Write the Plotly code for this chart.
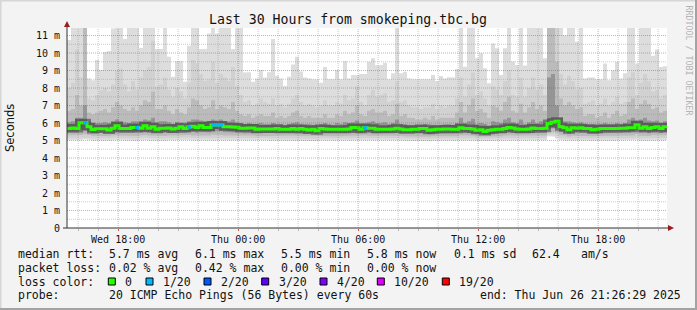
import plotly.graph_objects as go
import pandas as pd

# ---------------- data ----------------
title_text = "Last 30 Hours from smokeping.tbc.bg"
t_start = "2025-06-25 15:26:29"
t_end = "2025-06-26 21:26:29"
step_min = 12  # one smoke column = 12 minutes

x_tick_vals = ["2025-06-25 18:00:00", "2025-06-26 00:00:00", "2025-06-26 06:00:00",
               "2025-06-26 12:00:00", "2025-06-26 18:00:00"]
x_tick_text = ["Wed 18:00", "Thu 00:00", "Thu 06:00", "Thu 12:00", "Thu 18:00"]
y_tick_vals = [0, 1, 2, 3, 4, 5, 6, 7, 8, 9, 10, 11]
y_tick_text = ["0", "1 m", "2 m", "3 m", "4 m", "5 m", "6 m", "7 m", "8 m", "9 m", "10 m", "11 m"]

# smoke envelope (milliseconds), one value per 12-minute column
rtt_max = [
    10.74, 11.6, 11.6, 11.6, 11.6, 8.55, 8.45, 9.6, 9.03, 10.06,
    10.11, 11.4, 11.5, 11.6, 10.8, 11.6, 11.6, 11.6, 10.29, 11.6,
    11.6, 11.6, 10.23, 10.23, 11.6, 9.79, 8.65, 9.54, 9.54, 8.36,
    10.42, 11.6, 11.6, 10.23, 10.23, 11.12, 11.6, 11.12, 11.6, 11.6,
    11.6, 10.23, 11.6, 11.6, 8.88, 8.9, 8.36, 8.55, 9.03, 8.6,
    8.9, 10.8, 8.7, 8.55, 8.11, 8.65, 9.35, 9.79, 8.95, 8.6,
    8.55, 8.5, 8.48, 8.3, 9.2, 8.52, 8.5, 9.03, 8.5, 9.54,
    8.55, 8.74, 8.74, 8.8, 8.8, 9.5, 9.7, 9.3, 9.31, 9.45,
    8.5, 8.84, 11.6, 8.84, 8.93, 8.55, 8.5, 8.5, 8.46, 8.46,
    8.5, 8.74, 8.4, 8.69, 8.55, 8.61, 8.6, 9.09, 11.6, 9.22,
    11.6, 11.6, 9.7, 9.98, 9.13, 8.27, 10.55, 10.27, 8.74, 10.27,
    11.6, 9.51, 9.31, 11.6, 9.28, 11.6, 11.6, 11.6, 11.6, 9.7,
    11.6, 11.6, 11.6, 11.6, 11.0, 11.6, 11.6, 10.65, 11.6, 8.55,
    8.6, 8.6, 8.5, 8.5, 9.4, 8.45, 9.0, 9.5, 8.55, 8.85,
    11.5, 11.6, 9.4, 11.6, 11.6, 11.6, 9.85, 10.2, 9.2, 9.25,
]
rtt_hi2 = [
    8.0, 8.3, 10.2, 8.6, 11.6, 7.4, 7.3, 7.6, 7.9, 8.0,
    7.8, 8.2, 9.0, 9.1, 8.2, 7.8, 8.4, 7.9, 8.6, 9.0,
    9.2, 10.7, 8.1, 8.2, 8.6, 7.9, 7.5, 8.0, 7.8, 7.4,
    8.3, 9.6, 9.4, 8.8, 8.4, 8.5, 9.5, 8.3, 8.8, 8.6,
    8.4, 9.2, 8.1, 7.6, 7.2, 7.3, 7.0, 7.1, 7.4, 7.2,
    7.1, 7.4, 7.0, 7.1, 6.9, 7.1, 7.4, 7.6, 7.2, 7.0,
    7.1, 7.0, 6.9, 7.0, 7.3, 7.0, 7.0, 7.2, 7.1, 7.6,
    7.3, 7.4, 8.1, 7.2, 7.0, 7.6, 7.9, 7.5, 7.6, 7.7,
    7.2, 7.3, 8.4, 7.2, 7.3, 7.0, 6.9, 6.9, 6.8, 6.9,
    6.9, 7.1, 6.8, 7.0, 6.9, 7.0, 7.0, 7.4, 8.6, 7.5,
    8.2, 8.9, 7.6, 7.8, 7.4, 7.0, 8.1, 7.9, 7.6, 8.4,
    9.0, 7.6, 7.5, 8.6, 7.5, 8.0, 8.6, 7.9, 8.2, 7.6,
    11.6, 11.6, 11.6, 8.8, 8.2, 8.7, 8.4, 7.9, 8.0, 7.1,
    7.2, 7.3, 7.0, 7.1, 7.4, 7.0, 7.2, 7.5, 7.1, 7.2,
    8.6, 8.9, 7.6, 8.3, 8.8, 8.4, 7.8, 7.9, 7.4, 7.6,
]
rtt_hi3 = [
    6.7, 6.8, 7.6, 7.0, 11.6, 6.6, 6.5, 6.6, 6.7, 6.8,
    6.6, 6.9, 7.2, 7.0, 6.8, 6.7, 6.9, 6.7, 7.0, 7.3,
    7.2, 7.8, 6.8, 6.8, 7.0, 6.7, 6.5, 6.8, 6.6, 6.5,
    6.9, 7.4, 7.3, 7.0, 6.8, 6.9, 7.3, 6.8, 7.0, 6.9,
    6.8, 7.2, 6.7, 6.5, 6.4, 6.5, 6.3, 6.4, 6.5, 6.4,
    6.4, 6.6, 6.3, 6.4, 6.3, 6.4, 6.6, 6.7, 6.4, 6.3,
    6.4, 6.3, 6.3, 6.3, 6.5, 6.3, 6.3, 6.5, 6.4, 6.7,
    6.5, 6.6, 7.0, 6.5, 6.4, 6.7, 6.8, 6.6, 6.6, 6.7,
    6.4, 6.5, 7.1, 6.4, 6.5, 6.3, 6.3, 6.2, 6.2, 6.3,
    6.2, 6.4, 6.2, 6.3, 6.3, 6.3, 6.3, 6.6, 7.2, 6.6,
    7.0, 7.4, 6.7, 6.8, 6.6, 6.3, 7.0, 6.9, 6.7, 7.2,
    7.5, 6.7, 6.6, 7.1, 6.6, 6.9, 7.2, 6.8, 7.0, 6.7,
    11.6, 11.6, 9.5, 7.4, 7.0, 7.2, 7.0, 6.8, 6.9, 6.4,
    6.5, 6.5, 6.3, 6.4, 6.6, 6.3, 6.5, 6.7, 6.4, 6.5,
    7.2, 7.4, 6.8, 7.1, 7.3, 7.1, 6.8, 6.9, 6.6, 6.7,
]
rtt_hi4 = [
    6.05, 6.1, 6.3, 6.3, 7.0, 6.1, 6.0, 6.0, 6.0, 6.05,
    6.0, 6.1, 6.2, 6.1, 6.05, 6.0, 6.1, 6.1, 6.1, 6.2,
    6.15, 6.3, 6.05, 6.1, 6.1, 6.05, 5.95, 6.05, 6.0, 5.95,
    6.1, 6.2, 6.2, 6.15, 6.1, 6.1, 6.2, 6.15, 6.2, 6.1,
    6.1, 6.2, 6.05, 6.0, 5.95, 6.0, 5.95, 5.95, 6.0, 5.95,
    5.95, 6.0, 5.95, 5.95, 5.9, 5.95, 6.0, 6.05, 5.95, 5.9,
    5.95, 5.9, 5.9, 5.95, 6.0, 5.95, 5.9, 6.0, 5.95, 6.05,
    6.0, 6.05, 6.15, 6.0, 6.0, 6.05, 6.1, 6.0, 6.0, 6.05,
    5.95, 6.0, 6.2, 5.95, 5.95, 5.9, 5.9, 5.9, 5.9, 5.95,
    5.85, 5.9, 5.9, 5.9, 5.95, 5.95, 5.9, 6.0, 6.3, 6.0,
    6.1, 6.25, 5.95, 6.0, 5.95, 5.85, 6.1, 6.05, 6.0, 6.2,
    6.3, 6.05, 6.0, 6.2, 5.95, 6.05, 6.2, 6.0, 6.1, 6.0,
    8.6, 8.8, 7.0, 6.3, 6.1, 6.1, 6.05, 6.0, 6.05, 5.95,
    5.95, 5.95, 5.9, 5.95, 6.0, 5.95, 5.95, 6.0, 5.95, 6.0,
    6.2, 6.3, 6.15, 6.2, 6.3, 6.15, 6.1, 6.15, 6.0, 6.1,
]
rtt_min = [
    5.02, 5.00, 4.98, 5.01, 5.07, 5.03, 5.00, 4.99, 5.02, 5.01,
    4.98, 5.00, 5.03, 5.01, 4.99, 5.02, 5.00, 4.98, 5.01, 5.03,
    5.00, 4.99, 5.02, 5.00, 4.98, 5.01, 5.02, 5.00, 4.99, 5.01,
    5.03, 5.00, 4.98, 5.01, 5.02, 5.00, 5.01, 4.99, 5.02, 5.00,
    4.99, 5.01, 5.00, 5.02, 4.98, 5.00, 5.01, 4.99, 5.00, 5.02,
    5.00, 4.98, 5.01, 5.00, 4.97, 4.99, 5.01, 5.00, 4.98, 5.00,
    4.99, 5.01, 4.97, 5.00, 4.98, 5.00, 4.99, 5.01, 4.98, 5.00,
    5.01, 5.02, 5.00, 4.99, 5.02, 5.00, 5.01, 4.98, 5.00, 4.99,
    5.00, 4.98, 5.02, 5.00, 4.97, 4.99, 4.98, 5.00, 4.97, 4.99,
    4.96, 4.98, 5.00, 4.99, 4.98, 5.00, 4.99, 4.98, 5.02, 5.00,
    4.99, 5.00, 4.97, 4.99, 4.95, 4.97, 4.99, 5.00, 4.98, 5.00,
    5.02, 5.00, 4.99, 4.98, 5.00, 4.99, 5.01, 5.00, 4.99, 5.01,
    5.24, 5.22, 5.10, 5.03, 5.00, 4.97, 5.00, 4.99, 5.01, 4.99,
    4.98, 4.97, 5.00, 4.99, 5.00, 4.98, 4.99, 5.00, 5.01, 5.00,
    5.02, 5.00, 5.04, 4.99, 5.01, 4.99, 5.02, 5.00, 4.99, 5.01,
]
rtt_lo2 = [
    5.15, 5.14, 5.12, 5.16, 5.20, 5.16, 5.13, 5.12, 5.14, 5.13,
    5.11, 5.14, 5.17, 5.14, 5.13, 5.15, 5.14, 5.12, 5.15, 5.17,
    5.14, 5.13, 5.16, 5.14, 5.12, 5.15, 5.16, 5.14, 5.13, 5.15,
    5.17, 5.14, 5.12, 5.15, 5.16, 5.14, 5.16, 5.13, 5.16, 5.14,
    5.13, 5.15, 5.14, 5.16, 5.12, 5.14, 5.15, 5.12, 5.13, 5.15,
    5.13, 5.11, 5.14, 5.13, 5.10, 5.12, 5.14, 5.13, 5.11, 5.13,
    5.12, 5.14, 5.10, 5.13, 5.11, 5.13, 5.12, 5.14, 5.11, 5.13,
    5.14, 5.15, 5.13, 5.12, 5.15, 5.13, 5.14, 5.11, 5.13, 5.12,
    5.13, 5.11, 5.15, 5.13, 5.10, 5.12, 5.11, 5.13, 5.10, 5.12,
    5.09, 5.11, 5.13, 5.12, 5.11, 5.13, 5.12, 5.11, 5.15, 5.13,
    5.12, 5.13, 5.10, 5.12, 5.08, 5.10, 5.12, 5.13, 5.11, 5.13,
    5.15, 5.13, 5.12, 5.11, 5.13, 5.12, 5.14, 5.13, 5.12, 5.14,
    5.35, 5.34, 5.24, 5.16, 5.13, 5.10, 5.13, 5.12, 5.14, 5.12,
    5.11, 5.10, 5.13, 5.12, 5.13, 5.11, 5.12, 5.13, 5.14, 5.13,
    5.15, 5.13, 5.18, 5.12, 5.14, 5.12, 5.15, 5.13, 5.12, 5.14,
]
rtt_lo3 = [
    5.30, 5.29, 5.27, 5.31, 5.36, 5.31, 5.27, 5.26, 5.28, 5.27,
    5.25, 5.28, 5.31, 5.28, 5.27, 5.29, 5.28, 5.26, 5.29, 5.31,
    5.28, 5.27, 5.30, 5.28, 5.26, 5.29, 5.30, 5.28, 5.27, 5.29,
    5.31, 5.28, 5.26, 5.29, 5.30, 5.28, 5.33, 5.30, 5.32, 5.29,
    5.28, 5.30, 5.29, 5.30, 5.26, 5.28, 5.29, 5.25, 5.27, 5.28,
    5.27, 5.25, 5.28, 5.27, 5.24, 5.26, 5.28, 5.27, 5.25, 5.27,
    5.25, 5.27, 5.23, 5.27, 5.25, 5.26, 5.25, 5.27, 5.25, 5.26,
    5.28, 5.30, 5.27, 5.26, 5.30, 5.27, 5.28, 5.25, 5.26, 5.26,
    5.26, 5.25, 5.29, 5.27, 5.24, 5.25, 5.25, 5.26, 5.24, 5.26,
    5.22, 5.24, 5.26, 5.26, 5.25, 5.27, 5.26, 5.25, 5.30, 5.27,
    5.26, 5.27, 5.23, 5.25, 5.21, 5.23, 5.25, 5.26, 5.25, 5.27,
    5.30, 5.28, 5.26, 5.25, 5.26, 5.25, 5.28, 5.27, 5.26, 5.28,
    5.50, 5.52, 5.45, 5.32, 5.28, 5.23, 5.27, 5.26, 5.28, 5.26,
    5.25, 5.24, 5.26, 5.26, 5.27, 5.25, 5.26, 5.27, 5.28, 5.27,
    5.29, 5.28, 5.36, 5.27, 5.30, 5.26, 5.30, 5.31, 5.27, 5.30,
]
rtt_lo4 = [
    5.46, 5.47, 5.45, 5.60, 5.62, 5.48, 5.42, 5.42, 5.43, 5.43,
    5.40, 5.44, 5.50, 5.45, 5.44, 5.45, 5.46, 5.44, 5.45, 5.50,
    5.45, 5.46, 5.44, 5.45, 5.44, 5.45, 5.46, 5.44, 5.46, 5.44,
    5.48, 5.50, 5.45, 5.50, 5.47, 5.46, 5.55, 5.55, 5.55, 5.48,
    5.47, 5.47, 5.46, 5.45, 5.42, 5.44, 5.44, 5.40, 5.42, 5.42,
    5.42, 5.41, 5.43, 5.41, 5.40, 5.41, 5.43, 5.40, 5.42, 5.40,
    5.38, 5.41, 5.36, 5.43, 5.42, 5.41, 5.40, 5.41, 5.41, 5.41,
    5.43, 5.47, 5.45, 5.41, 5.46, 5.44, 5.44, 5.40, 5.41, 5.41,
    5.41, 5.42, 5.45, 5.42, 5.39, 5.39, 5.40, 5.41, 5.42, 5.43,
    5.36, 5.39, 5.41, 5.41, 5.42, 5.42, 5.41, 5.41, 5.47, 5.43,
    5.43, 5.42, 5.36, 5.39, 5.33, 5.36, 5.39, 5.41, 5.41, 5.43,
    5.48, 5.46, 5.42, 5.41, 5.41, 5.41, 5.45, 5.43, 5.43, 5.44,
    5.68, 5.72, 5.70, 5.52, 5.47, 5.39, 5.46, 5.44, 5.46, 5.43,
    5.42, 5.38, 5.40, 5.42, 5.42, 5.42, 5.42, 5.42, 5.44, 5.44,
    5.46, 5.46, 5.60, 5.44, 5.50, 5.42, 5.48, 5.50, 5.43, 5.49,
]
median_rtt = [
    5.69, 5.72, 5.69, 6.01, 6.01, 5.79, 5.63, 5.67, 5.67, 5.67,
    5.60, 5.70, 5.85, 5.68, 5.68, 5.68, 5.74, 5.74, 5.70, 5.85,
    5.70, 5.79, 5.64, 5.70, 5.70, 5.72, 5.66, 5.70, 5.79, 5.68,
    5.77, 5.82, 5.74, 5.85, 5.75, 5.75, 5.89, 5.89, 5.89, 5.79,
    5.79, 5.77, 5.76, 5.70, 5.70, 5.72, 5.72, 5.64, 5.66, 5.66,
    5.66, 5.66, 5.68, 5.64, 5.64, 5.64, 5.68, 5.64, 5.68, 5.64,
    5.60, 5.64, 5.56, 5.68, 5.66, 5.64, 5.64, 5.64, 5.64, 5.64,
    5.66, 5.75, 5.73, 5.64, 5.73, 5.70, 5.70, 5.64, 5.64, 5.64,
    5.64, 5.66, 5.70, 5.66, 5.62, 5.62, 5.64, 5.64, 5.68, 5.68,
    5.58, 5.62, 5.64, 5.64, 5.66, 5.66, 5.64, 5.64, 5.73, 5.68,
    5.68, 5.66, 5.58, 5.62, 5.52, 5.58, 5.62, 5.64, 5.64, 5.68,
    5.75, 5.72, 5.66, 5.64, 5.64, 5.66, 5.72, 5.68, 5.68, 5.70,
    5.97, 6.04, 6.10, 5.78, 5.73, 5.62, 5.73, 5.70, 5.73, 5.68,
    5.68, 5.62, 5.64, 5.68, 5.68, 5.68, 5.68, 5.68, 5.70, 5.70,
    5.73, 5.73, 5.90, 5.70, 5.79, 5.68, 5.75, 5.79, 5.68, 5.79,
]
# columns whose packet loss was 1/20 (all others 0)
loss_1_cols = [4, 17, 30, 36, 37, 38, 74]

# legend texts
stat_rtt = ["5.7 ms avg", "6.1 ms max", "5.5 ms min", "5.8 ms now", "0.1 ms sd", "62.4", "am/s"]
stat_loss = ["0.02 % avg", "0.42 % max", "0.00 % min", "0.00 % now"]
loss_labels = ["0", "1/20", "2/20", "3/20", "4/20", "10/20", "19/20"]
loss_colors = ["#26ff00", "#00b8ff", "#0059ff", "#5e00ff", "#7e00ff", "#dd00ff", "#ff0000"]
probe_text = "20 ICMP Echo Pings (56 Bytes) every 60s"
end_text = "end: Thu Jun 26 21:26:29 2025"
watermark = "RRDTOOL / TOBI OETIKER"

# ---------------- layout geometry (pixels) ----------------
W, H = 697, 310
PL, PT, PR, PB = 67, 28, 667, 228   # plot box
MONO = "DejaVu Sans Mono"


def px2x(x):
    return (x - PL) / (PR - PL)


def px2y(y):
    return (PB - y) / (PB - PT)


n = len(median_rtt)
times = [t.strftime("%Y-%m-%d %H:%M:%S") for t in
         pd.date_range(t_start, periods=n + 1, freq=f"{step_min}min")]


def band(lo, hi):
    xs, ys = [], []
    for k in range(n):
        xs += [times[k], times[k + 1]]
        ys += [hi[k], hi[k]]
    for k in range(n - 1, -1, -1):
        xs += [times[k + 1], times[k]]
        ys += [lo[k], lo[k]]
    return xs, ys


def segs(cols):
    xs, ys = [], []
    for k in cols:
        xs += [times[k], times[k + 1], None]
        ys += [median_rtt[k], median_rtt[k], None]
    return xs, ys


fig = go.Figure()

bands = [
    (rtt_min, rtt_max, "#dddddd"),
    (rtt_lo2, rtt_hi2, "rgba(0,0,0,0.05)"),
    (rtt_lo3, rtt_hi3, "rgba(0,0,0,0.10)"),
    (rtt_lo4, rtt_hi4, "rgba(0,0,0,0.20)"),
]
for lo, hi, col in bands:
    bx, by = band(lo, hi)
    fig.add_trace(go.Scatter(x=bx, y=by, mode="lines", fill="toself", fillcolor=col,
                             line=dict(width=0), hoverinfo="skip"))

# dark core around the median
med_x = times
med_y = median_rtt + [median_rtt[-1]]
fig.add_trace(go.Scatter(x=med_x, y=med_y, mode="lines",
                         line=dict(color="rgba(0,0,0,0.38)", width=8, shape="hv"), hoverinfo="skip"))
# median, loss 0 colour, continuous step line
fig.add_trace(go.Scatter(x=med_x, y=med_y, mode="lines",
                         line=dict(color=loss_colors[0], width=3, shape="hv"), hoverinfo="skip"))
# columns with 1/20 loss
sx, sy = segs(loss_1_cols)
fig.add_trace(go.Scatter(x=sx, y=sy, mode="lines", line=dict(color=loss_colors[1], width=3),
                         hoverinfo="skip"))

shapes = []
# grid (drawn above the smoke, as rrdtool does)
y_max = 11.43
for i in range(1, 23):
    v = i * 0.5
    major = (i % 2 == 0)
    shapes.append(dict(type="line", xref="paper", yref="y", x0=0, x1=1, y0=v, y1=v,
                       line=dict(color="rgba(225,40,40,0.45)" if major else "rgba(140,140,140,0.45)",
                                 width=1, dash="1px,1px"), layer="above"))
for h in pd.date_range("2025-06-25 16:00:00", "2025-06-26 21:00:00", freq="1h"):
    major = (h.hour % 6 == 0)
    hs = h.strftime("%Y-%m-%d %H:%M:%S")
    shapes.append(dict(type="line", xref="x", yref="paper", x0=hs, x1=hs, y0=0, y1=1,
                       line=dict(color="rgba(225,40,40,0.45)" if major else "rgba(140,140,140,0.45)",
                                 width=1, dash="1px,1px"), layer="above"))

# axes with arrows
axis_col = "#333333"
arrow_col = "#9b1c1c"
shapes.append(dict(type="line", xref="paper", yref="paper", x0=0, x1=0, y0=0, y1=px2y(24),
                   line=dict(color=axis_col, width=1), layer="above"))
shapes.append(dict(type="line", xref="paper", yref="paper", x0=px2x(63), x1=px2x(670), y0=0, y1=0,
                   line=dict(color=axis_col, width=1), layer="above"))
shapes.append(dict(type="path", xref="paper", yref="paper",
                   path=f"M {px2x(67)} {px2y(21)} L {px2x(64)} {px2y(27)} L {px2x(70)} {px2y(27)} Z",
                   fillcolor=arrow_col, line=dict(width=0), layer="above"))
shapes.append(dict(type="path", xref="paper", yref="paper",
                   path=f"M {px2x(674)} {px2y(228)} L {px2x(668)} {px2y(225)} L {px2x(668)} {px2y(231)} Z",
                   fillcolor=arrow_col, line=dict(width=0), layer="above"))

# frame
shapes.append(dict(type="line", xref="paper", yref="paper", x0=px2x(0), x1=px2x(697), y0=px2y(0.5), y1=px2y(0.5),
                   line=dict(color="#d6d6d6", width=2)))
shapes.append(dict(type="line", xref="paper", yref="paper", x0=px2x(0.5), x1=px2x(0.5), y0=px2y(0), y1=px2y(310),
                   line=dict(color="#d6d6d6", width=2)))
shapes.append(dict(type="line", xref="paper", yref="paper", x0=px2x(0), x1=px2x(697), y0=px2y(309), y1=px2y(309),
                   line=dict(color="#a3a3a3", width=2)))
shapes.append(dict(type="line", xref="paper", yref="paper", x0=px2x(696), x1=px2x(696), y0=px2y(0), y1=px2y(310),
                   line=dict(color="#a3a3a3", width=2)))

annotations = []


def text(s, x, y, size=11.5, anchor="left", angle=0, color="#111111", family=MONO):
    annotations.append(dict(text=s, xref="paper", yref="paper", x=px2x(x), y=px2y(y),
                            xanchor=anchor, yanchor="middle", showarrow=False, textangle=angle,
                            font=dict(family=family, size=size, color=color)))


text(title_text, 348, 19, size=13.2, anchor="center")
text("Seconds", 10, 128, size=11.5, anchor="center", angle=-90, family="DejaVu Sans")
text(watermark, 688.5, 60, size=8.3, anchor="center", angle=90, color="#b4b4b4")

row1, row2, row3, row4 = 254, 268, 281.5, 295
col_x = [107.3, 193.3, 279.3, 365.0, 451.7, 530.0, 579.3]
text("median rtt:", 16, row1)
for s, x in zip(stat_rtt, col_x):
    text(s, x, row1)
text("packet loss:", 16, row2)
for s, x in zip(stat_loss, col_x):
    text(s, x, row2)
text("loss color:", 16, row3)
sq_x = [108.3, 146.0, 204.0, 261.7, 320.0, 377.3, 442.3]
for s, c, x in zip(loss_labels, loss_colors, sq_x):
    shapes.append(dict(type="rect", xref="paper", yref="paper", x0=px2x(x), x1=px2x(x + 7),
                       y0=px2y(278), y1=px2y(285), fillcolor=c, line=dict(color="#000000", width=1)))
    text(s, x + 15, row3)
text("probe:", 16, row4)
text(probe_text, 107.3, row4)
text(end_text, 478.3, row4)

fig.update_layout(
    width=W, height=H,
    margin=dict(l=PL, r=W - PR, t=PT, b=H - PB, pad=0),
    paper_bgcolor="#f3f3f3", plot_bgcolor="#ffffff",
    showlegend=False, hovermode=False,
    shapes=shapes, annotations=annotations,
    xaxis=dict(type="date", range=[t_start, t_end], showgrid=False, zeroline=False, showline=False,
               tickvals=x_tick_vals, ticktext=x_tick_text, ticks="outside", ticklen=2,
               tickcolor="rgba(225,40,40,0.7)",
               tickfont=dict(family=MONO, size=10, color="#111111"),
               minor=dict(tick0="2025-06-25 16:00:00", dtick=3600000, ticks="outside", ticklen=2,
                          tickcolor="#bbbbbb", showgrid=False)),
    yaxis=dict(range=[0, y_max], showgrid=False, zeroline=False, showline=False,
               tickvals=y_tick_vals, ticktext=y_tick_text, ticks="", ticklabelstandoff=6,
               tickfont=dict(family=MONO, size=10, color="#111111")),
)

fig.write_html("out.html")
